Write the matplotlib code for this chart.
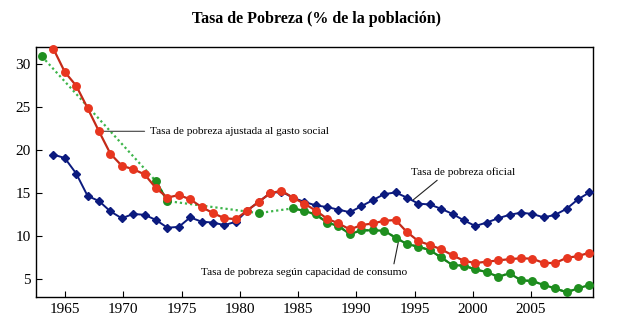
import numpy as np
import matplotlib
matplotlib.use("Agg")
import matplotlib.pyplot as plt

# ---- data ----
years_main = list(range(1963, 2011))  # 48 yearly values for official & social-spending series

oficial = [19.5, 19.1, 17.3, 14.7, 14.1, 12.9, 12.1, 12.6, 12.5, 11.9,
           11.0, 11.1, 12.2, 11.7, 11.6, 11.3, 11.7, 13.0, 14.0, 15.0,
           15.2, 14.5, 14.0, 13.6, 13.4, 13.1, 12.8, 13.5, 14.2, 14.9,
           15.1, 14.5, 13.8, 13.7, 13.2, 12.6, 11.85, 11.2, 11.6, 12.1,
           12.5, 12.75, 12.6, 12.2, 12.5, 13.2, 14.3, 15.1]

gasto_social = [31.8, 29.1, 27.5, 24.9, 22.2, 19.6, 18.2, 17.8, 17.2, 15.6,
                14.5, 14.8, 14.3, 13.4, 12.7, 12.1, 12.0, 13.0, 14.0, 15.0,
                15.3, 14.5, 13.8, 13.0, 12.05, 11.5, 10.8, 11.3, 11.5, 11.8,
                11.9, 10.5, 9.45, 9.0, 8.5, 7.8, 7.15, 6.9, 7.05, 7.2,
                7.35, 7.45, 7.4, 6.9, 6.9, 7.5, 7.7, 8.1]

years_consumo = [1962, 1972, 1973, 1981, 1984, 1985, 1986, 1987, 1988, 1989,
                 1990, 1991, 1992, 1993, 1994, 1995, 1996, 1997, 1998, 1999,
                 2000, 2001, 2002, 2003, 2004, 2005, 2006, 2007, 2008, 2009, 2010]
consumo = [30.9, 16.4, 14.1, 12.7, 13.25, 12.95, 12.55, 11.6, 11.2, 10.25,
           10.7, 10.7, 10.65, 9.85, 9.1, 8.8, 8.4, 7.55, 6.65, 6.6,
           6.15, 5.85, 5.3, 5.7, 4.9, 4.8, 4.35, 3.95, 3.5, 3.95, 4.35]

tick_years = [1965, 1970, 1975, 1980, 1985, 1990, 1995, 2000, 2005]
ytick_vals = [5, 10, 15, 20, 25, 30]

title = "Tasa de Pobreza (% de la población)"
lbl_gasto = "Tasa de pobreza ajustada al gasto social"
lbl_oficial = "Tasa de pobreza oficial"
lbl_consumo = "Tasa de pobreza según capacidad de consumo"

# ---- styling ----
plt.rcParams['font.family'] = ['Liberation Serif', 'DejaVu Serif']

BLUE = "#0b1a7e"
RED_M = "#e8361f"
RED_L = "#c42a18"
GREEN_M = "#1f8f1f"
GREEN_L = "#17801a"
GREEN_DOT = "#3db54a"


def pos(y):
    # the reference's category axis spreads the 1963..2010 points over 1964..2010
    return 1964 + (np.asarray(y, dtype=float) - 1963) * 46.0 / 47.0


fig = plt.figure(figsize=(6.18, 3.32), dpi=100)
ax = fig.add_axes([36 / 618, 1 - 297 / 332, (593 - 36) / 618, (297 - 47) / 332])

# green series: dotted across gaps, solid between consecutive years
yc = np.array(years_consumo)
vc = np.array(consumo)
ax.plot(pos(yc), vc, linestyle=(0, (1, 1.3)), color=GREEN_DOT, lw=1.6, zorder=2)
full_years = np.arange(yc.min(), yc.max() + 1)
full_vals = np.full(full_years.shape, np.nan)
for yy, vv in zip(yc, vc):
    full_vals[yy - yc.min()] = vv
ax.plot(pos(full_years), full_vals, color=GREEN_L, lw=1.6, zorder=3)
ax.plot(pos(yc), vc, 'o', color=GREEN_M, ms=5.4, mec=GREEN_M, zorder=4, clip_on=False)

# official series
ax.plot(pos(years_main), oficial, '-', color=BLUE, lw=1.4, zorder=5)
ax.plot(pos(years_main), oficial, 'D', color=BLUE, ms=4.0, zorder=5)

# social-spending adjusted series
ax.plot(pos(years_main), gasto_social, '-', color=RED_L, lw=1.6, zorder=6)
ax.plot(pos(years_main), gasto_social, 'o', color=RED_M, mec=RED_M, ms=5.4, zorder=6,
        clip_on=False)

ax.set_xlim(1962.51, 2010.31)
ax.set_ylim(2.95, 32.0)
ax.set_xticks(tick_years)
ax.set_xticklabels([str(t) for t in tick_years])
ax.set_yticks(ytick_vals)
ax.set_yticklabels([str(v) for v in ytick_vals])
ax.tick_params(direction='in', length=4, width=0.8, labelsize=11, pad=4,
               colors='black')
for s in ax.spines.values():
    s.set_linewidth(1.0)
    s.set_color('black')

# annotations
i_g = years_main.index(1967)
ax.annotate(lbl_gasto, xy=(pos(1967), gasto_social[i_g]), xytext=(1972.3, 22.2),
            fontsize=8.1, ha='left', va='center',
            arrowprops=dict(arrowstyle='-', color='#555555', lw=0.9,
                            relpos=(0, 0.5), shrinkA=2, shrinkB=0))
ax.annotate(lbl_oficial, xy=(1994.85, 14.2), xytext=(1999.2, 17.5),
            fontsize=8.1, ha='center', va='center',
            arrowprops=dict(arrowstyle='-', color='#222222', lw=0.8,
                            relpos=(0.29, 0), shrinkA=1, shrinkB=0))
ax.annotate(lbl_consumo, xy=(1993.6, 9.3), xytext=(1985.55, 5.8),
            fontsize=8.1, ha='center', va='center',
            arrowprops=dict(arrowstyle='-', color='#222222', lw=0.8,
                            relpos=(0.93, 1), shrinkA=1, shrinkB=0))

fig.text(317 / 618, 1 - 19 / 332, title, ha='center', va='center',
         fontsize=11.5, fontweight='bold')

fig.savefig("out.png", dpi=100)
